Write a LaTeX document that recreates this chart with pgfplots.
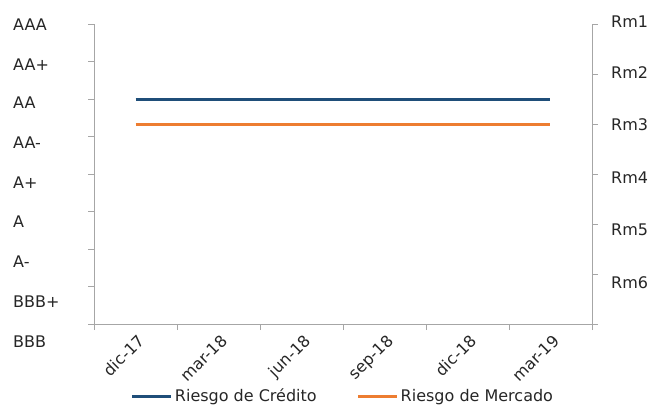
\documentclass[border=0pt]{standalone}
\usepackage{pgfplots}
\pgfplotsset{compat=1.18}
\usepackage{fontspec}
\setmainfont{DejaVu Sans}

\definecolor{credito}{HTML}{1F4E79}
\definecolor{mercado}{HTML}{ED7D31}
\definecolor{ejes}{HTML}{A6A6A6}
\definecolor{texto}{HTML}{262626}

\pgfplotsset{
  rotulo/.style={font=\fontsize{16pt}{19pt}\selectfont, text=texto},
  base/.style={
    scale only axis, width=498pt, height=300pt,
    anchor=origin,
    /pgf/number format/assume math mode=true,
    tick label style={rotulo},
  },
}

\begin{document}
\begin{tikzpicture}
\path[use as bounding box] (-94pt,-81pt) rectangle (557pt,324pt);

% eje izquierdo: calificacion crediticia
\begin{axis}[base, at={(41.5pt,0pt)},
  xmin=-0.5, xmax=5.5, ymin=0, ymax=8,
  axis x line*=bottom, axis y line*=left,
  axis line style={draw=ejes, line width=0.8pt, -},
  tick align=outside,
  xtick={0,...,5},
  xticklabels={dic-17,mar-18,jun-18,sep-18,dic-18,mar-19},
  minor xtick={-0.5,0.5,...,5.5},
  major x tick style={draw=none},
  minor x tick style={draw=ejes, line width=0.8pt},
  minor tick length=6pt,
  xticklabel style={rotate=45, anchor=north east, xshift=2pt, yshift=0pt},
  ytick={0,...,8}, yticklabels={},
  major y tick style={draw=ejes, line width=0.8pt},
  major tick length=6pt,
]
\addplot[credito, line width=3pt] coordinates {(0,6) (1,6) (2,6) (3,6) (4,6) (5,6)};
\end{axis}

% eje derecho: riesgo de mercado
\begin{axis}[base, at={(41.5pt,0pt)},
  xmin=-0.5, xmax=5.5, ymin=0, ymax=6,
  axis x line=none, axis y line*=right,
  axis line style={draw=ejes, line width=0.8pt, -},
  tick align=outside,
  ytick={0,...,6}, yticklabels={},
  major y tick style={draw=ejes, line width=0.8pt},
  major tick length=6pt,
  legend style={at={(0.5,-0.24)}, anchor=center, legend columns=2,
    draw=none, fill=none, rotulo, inner sep=0pt,
    /tikz/every even column/.append style={column sep=38pt}},
  legend image code/.code={\draw[#1] (0pt,0pt) -- (39pt,0pt);},
]
\addlegendimage{credito, line width=3pt}
\addlegendentry{Riesgo de Crédito}
\addplot[mercado, line width=3pt] coordinates {(0,4) (1,4) (2,4) (3,4) (4,4) (5,4)};
\addlegendentry{Riesgo de Mercado}
\end{axis}

% rotulos de calificacion (izquierda), en pixeles sobre el eje x
\begin{axis}[base, at={(0pt,0pt)}, height=340pt,
  xmin=0, xmax=1, ymin=-30, ymax=310,
  hide x axis, axis y line*=left,
  y axis line style={draw=none},
  ytick={-18,22,62,102,141,181,221,259,299},
  yticklabels={BBB,BBB+,A-,A,A+,AA-,AA,AA+,AAA},
  major tick length=0pt,
  yticklabel style={anchor=west, xshift=-84.3pt},
]
\end{axis}

% rotulos de riesgo de mercado (derecha)
\begin{axis}[base, at={(0pt,0pt)}, height=340pt,
  xmin=0, xmax=1, ymin=-30, ymax=310,
  hide x axis, axis y line*=right,
  y axis line style={draw=none},
  ytick={41,94,146,199,251,302},
  yticklabels={Rm6,Rm5,Rm4,Rm3,Rm2,Rm1},
  major tick length=0pt,
  yticklabel style={anchor=west, xshift=15.7pt},
]
\end{axis}
\end{tikzpicture}
\end{document}
